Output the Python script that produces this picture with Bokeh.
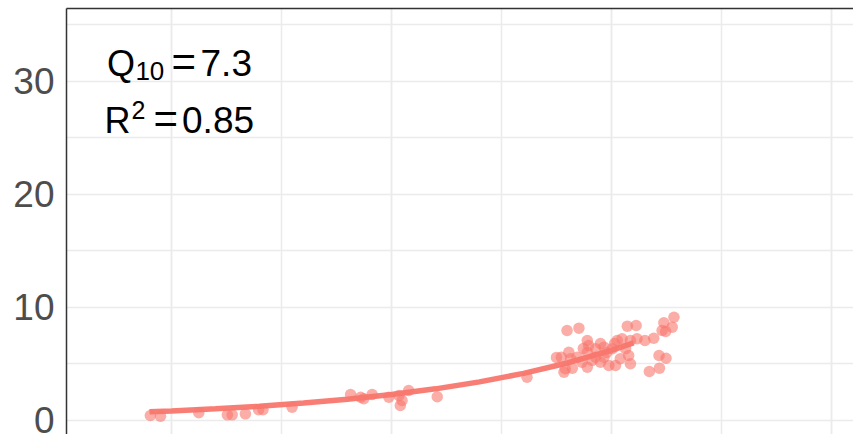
from bokeh.plotting import figure
from bokeh.models import Range1d, LinearAxis, SingleIntervalTicker, FixedTicker, Label, ColumnDataSource
from bokeh.embed import file_html
from bokeh.resources import INLINE

# observed points (x: temperature-like, y: rate)
pts_x = [-0.48, -0.25, 0.62, 1.27, 1.38, 1.68, 1.98, 2.08, 2.74,
         4.07, 4.30, 4.37, 4.56, 4.94, 5.17, 5.20, 5.24, 5.39, 6.04, 8.08,
         8.99, 9.26, 10.36, 10.56, 11.19, 11.42, 11.38, 11.15, 11.23,
         9.45, 9.48, 10.13, 10.24, 10.43, 10.58, 10.76, 10.96,
         8.86, 9.03, 9.07, 9.22, 8.95, 9.11, 8.92, 9.45, 9.45, 9.64, 9.64,
         9.83, 9.83, 9.94, 10.09, 10.20, 10.39, 10.43, 10.32, 10.02,
         11.08, 11.24, 10.86, 11.09, 9.56, 9.75, 9.33,
         8.75, 9.75, 9.89, 10.07, 9.36]
pts_y = [0.44, 0.38, 0.68, 0.50, 0.50, 0.59, 0.95, 0.95, 1.18,
         2.30, 2.06, 1.92, 2.30, 2.06, 2.21, 1.33, 1.77, 2.65, 2.10, 3.83,
         7.96, 8.17, 8.35, 8.41, 8.65, 9.14, 8.26, 7.96, 7.88,
         7.08, 6.64, 7.08, 7.23, 7.08, 7.23, 7.08, 7.28,
         5.60, 6.04, 5.46, 5.60, 4.58, 4.63, 4.27, 4.72, 6.04, 6.35, 5.60,
         6.49, 5.60, 4.87, 4.87, 5.46, 5.75, 5.02, 6.35, 6.35,
         5.75, 5.51, 4.34, 4.63, 5.31, 5.16, 5.16,
         5.58, 6.81, 6.02, 6.81, 6.37]

# fitted curve
fit_x = [-0.5, 0, 1, 2, 3, 4, 5, 6, 7, 8, 9, 10, 10.5]
fit_y = [0.77, 0.85, 1.04, 1.26, 1.55, 1.88, 2.30, 2.80, 3.42, 4.17, 5.09, 6.21, 6.86]

y_ticks = [0, 10, 20, 30]
y_minor = [5, 15, 25, 35]

FONT = "Liberation Sans"
COL = "#F8766D"

p = figure(width=853, height=434, output_backend="svg", toolbar_location=None,
           x_range=Range1d(-2.386, 15.5), y_range=Range1d(-1.24, 36.46),
           x_axis_location=None, y_axis_location="left",
           min_border_left=66, min_border_top=8, min_border_right=0, min_border_bottom=0)
p.outline_line_color = None
p.background_fill_color = "white"
p.border_fill_color = "white"

# grids
p.xgrid.ticker = SingleIntervalTicker(interval=5, num_minor_ticks=2)
p.xgrid.grid_line_color = "#EBEBEB"
p.xgrid.grid_line_width = 1.5
p.xgrid.minor_grid_line_color = "#EBEBEB"
p.xgrid.minor_grid_line_width = 1.5

p.yaxis.ticker = FixedTicker(ticks=y_ticks, minor_ticks=y_minor)
p.ygrid.ticker = FixedTicker(ticks=y_ticks, minor_ticks=y_minor)
p.ygrid.grid_line_color = "#EBEBEB"
p.ygrid.grid_line_width = 1.5
p.ygrid.minor_grid_line_color = "#EBEBEB"
p.ygrid.minor_grid_line_width = 1.5

ya = p.yaxis[0]
ya.axis_line_color = "#333333"
ya.axis_line_width = 1.5
ya.major_tick_line_color = None
ya.minor_tick_line_color = None
ya.major_tick_out = 0
ya.major_tick_in = 0
ya.minor_tick_out = 0
ya.major_label_standoff = 12
ya.major_label_text_font = FONT
ya.major_label_text_font_size = "37px"
ya.major_label_text_color = "#4D4D4D"

top = LinearAxis(ticker=FixedTicker(ticks=[]), axis_line_color="#333333", axis_line_width=1.5,
                 major_tick_line_color=None, minor_tick_line_color=None,
                 major_tick_out=0, major_tick_in=0, minor_tick_out=0, minor_tick_in=0,
                 major_label_standoff=0, major_label_text_font_size="0px")
p.add_layout(top, "above")

src = ColumnDataSource(dict(x=pts_x, y=pts_y))
p.scatter("x", "y", source=src, size=11.5, fill_color=COL, fill_alpha=0.6, line_color=None)
p.line(fit_x, fit_y, line_color=COL, line_width=5.5, line_alpha=0.95)

def lab(x, y, t, size):
    p.add_layout(Label(x=x, y=y, text=t, text_font=FONT, text_font_size=size,
                       text_color="black", text_baseline="alphabetic", text_align="left"))

lab(-1.466, 31.6, "Q", "36px")
lab(-0.82, 30.9, "10", "26px")
lab(0.0, 31.8, "=", "42px")
lab(0.66, 31.6, "7.3", "37px")
lab(-1.52, 26.55, "R", "36px")
lab(-0.91, 27.45, "2", "25px")
lab(-0.41, 26.75, "=", "42px")
lab(0.24, 26.55, "0.85", "37px")

open("out.html", "w").write(file_html(p, INLINE))
